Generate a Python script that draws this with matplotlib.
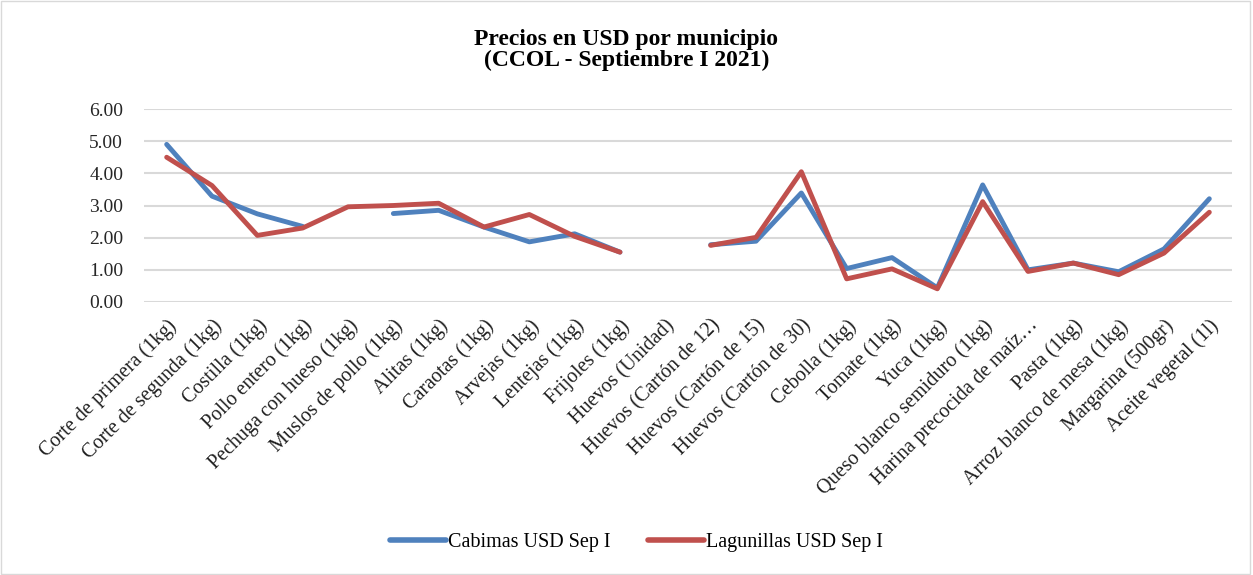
import numpy as np
import matplotlib
matplotlib.use("Agg")
import matplotlib.pyplot as plt
from matplotlib.patches import Rectangle

categories = ["Corte de primera (1kg)", "Corte de segunda (1kg)", "Costilla (1kg)",
              "Pollo entero (1kg)", "Pechuga con hueso (1kg)", "Muslos de pollo (1kg)",
              "Alitas (1kg)", "Caraotas (1kg)", "Arvejas (1kg)", "Lentejas (1kg)",
              "Frijoles (1kg)", "Huevos (Unidad)", "Huevos (Cartón de 12)",
              "Huevos (Cartón de 15)", "Huevos (Cartón de 30)", "Cebolla (1kg)",
              "Tomate (1kg)", "Yuca (1kg)", "Queso blanco semiduro (1kg)",
              "Harina precocida de maíz…", "Pasta (1kg)", "Arroz blanco de mesa (1kg)",
              "Margarina (500gr)", "Aceite vegetal (1l)"]

nan = np.nan
cabimas = [4.90, 3.29, 2.74, 2.35, nan, 2.75, 2.85, 2.33, 1.87, 2.12, 1.55, nan,
           1.78, 1.89, 3.39, 1.04, 1.38, 0.44, 3.64, 1.00, 1.21, 0.94, 1.65, 3.21]
lagunillas = [4.50, 3.62, 2.07, 2.30, 2.96, 3.00, 3.07, 2.33, 2.72, 2.04, 1.55, nan,
              1.76, 2.01, 4.05, 0.72, 1.03, 0.41, 3.12, 0.95, 1.21, 0.85, 1.52, 2.79]

series_names = ["Cabimas USD Sep I", "Lagunillas USD Sep I"]
yticks = [0, 1, 2, 3, 4, 5, 6]

plt.rcParams['font.family'] = ['Liberation Serif', 'DejaVu Serif']

fig = plt.figure(figsize=(12.53, 5.75), dpi=100)
ax = fig.add_axes([144 / 1253, 1 - 302 / 575, 1088 / 1253, 193 / 575])

x = np.arange(len(categories))
ax.plot(x, cabimas, color="#4F81BD", lw=3.5, solid_capstyle='round', solid_joinstyle='round',
        label=series_names[0], zorder=3)
ax.plot(x, lagunillas, color="#C0504D", lw=3.5, solid_capstyle='round', solid_joinstyle='round',
        label=series_names[1], zorder=4)

ax.set_xlim(-0.5, len(categories) - 0.5)
ax.set_ylim(0, 6)
ax.set_yticks(yticks)
ax.set_yticklabels([f"{v:.2f}" for v in yticks], fontsize=14, color="#262626")
ax.set_xticks(x)
ax.set_xticklabels(categories, rotation=45, ha='right', rotation_mode='anchor',
                   fontsize=14.5, color="#202020")
ax.tick_params(axis='both', length=0)
ax.tick_params(axis='y', pad=15)
ax.tick_params(axis='x', pad=10)
ax.grid(axis='y', color="#D9D9D9", lw=1.5)
ax.set_axisbelow(True)
for s in ax.spines.values():
    s.set_visible(False)

fig.text(0.5, 0.913, "Precios en USD por municipio\n(CCOL - Septiembre I 2021)",
         ha='center', va='center', fontsize=17, fontweight='bold', linespacing=1.0)

leg = fig.legend(loc='center', bbox_to_anchor=(0.508, 0.056), ncol=2, frameon=False,
                 fontsize=14.5, handlelength=2.75, columnspacing=1.9, handletextpad=0.1)
for h in leg.legend_handles:
    h.set_linewidth(4.0)

fig.patches.append(Rectangle((0.001, 0.002), 0.997, 0.996, transform=fig.transFigure,
                             fill=False, edgecolor="#D9D9D9", lw=1))

fig.savefig("out.png", dpi=100)
